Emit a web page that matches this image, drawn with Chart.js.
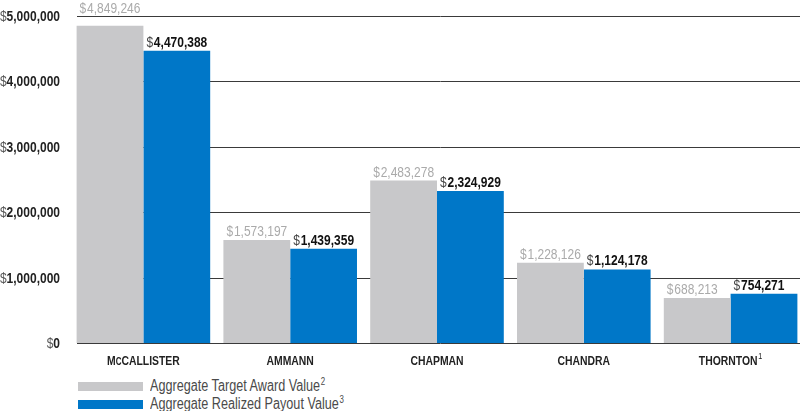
<!DOCTYPE html>
<html>
<head>
<meta charset="utf-8">
<script src="https://cdn.jsdelivr.net/npm/chart.js@4.4.1/dist/chart.umd.min.js"></script>
<style>
    html, body { margin: 0; padding: 0; background: #fff; }
    #wrap { position: relative; width: 800px; height: 411px; overflow: hidden; }
    #box { position: absolute; left: 0; top: 0; width: 804px; height: 370px; }
    #legend { position: absolute; left: 78px; top: 377px; font-family: 'Liberation Sans', Arial, sans-serif; font-size: 16px; color: #4a4a4a; }
    .row { display: flex; align-items: center; height: 18px; }
    .sw { width: 65px; height: 9px; margin-right: 7px; flex: none; }
    .txt { display: inline-block; transform: scaleX(0.79); transform-origin: left center; white-space: nowrap; }
    sup { font-size: 10px; vertical-align: 6px; line-height: 0; margin-left: 1px; }
</style>
</head>
<body>
<div id="wrap">
    <div id="box"><canvas id="chart"></canvas></div>
    <div id="legend"></div>
</div>
<script>
const categories = ['McCALLISTER', 'AMMANN', 'CHAPMAN', 'CHANDRA', 'THORNTON'];
const categoryNotes = ['', '', '', '', '1'];
const targetValues = [4849246, 1573197, 2483278, 1228126, 688213];
const payoutValues = [4470388, 1439359, 2324929, 1124178, 754271];
const yTicks = [0, 1000000, 2000000, 3000000, 4000000, 5000000];
const seriesNames = ['Aggregate Target Award Value', 'Aggregate Realized Payout Value'];
const seriesNotes = ['2', '3'];

const GRAY = '#c8c8ca';
const BLUE = '#0077c8';
const FONT = "'Liberation Sans', Arial, sans-serif";
const SQUEEZE = 0.8;

const fmt = (v) => v.toLocaleString('en-US');

// draws runs of text with different fonts, squeezed to look condensed
function drawRuns(ctx, runs, x, y, align) {
    ctx.save();
    ctx.textBaseline = 'alphabetic';
    ctx.textAlign = 'left';
    let total = 0;
    for (const r of runs) {
        ctx.font = r.font;
        total += ctx.measureText(r.text).width + (r.gap || 0);
    }
    ctx.translate(x, y);
    ctx.scale(SQUEEZE, 1);
    let cx = align === 'right' ? -total : align === 'center' ? -total / 2 : 0;
    for (const r of runs) {
        ctx.font = r.font;
        ctx.fillStyle = r.color;
        cx += r.gap || 0;
        ctx.fillText(r.text, cx, r.dy || 0);
        cx += ctx.measureText(r.text).width;
    }
    ctx.restore();
}

// horizontal rules at each tick, starting where the first bar starts
const gridLines = {
    id: 'gridLines',
    beforeDatasetsDraw(chart) {
        const { ctx, scales, chartArea } = chart;
        ctx.save();
        ctx.strokeStyle = '#3a3a3a';
        ctx.lineWidth = 1;
        for (const v of yTicks) {
            const y = Math.round(scales.y.getPixelForValue(v)) + 0.5;
            ctx.beginPath();
            ctx.moveTo(77, y);
            ctx.lineTo(chartArea.right, y);
            ctx.stroke();
        }
        ctx.restore();
    },
};

// y tick labels: light "$", bold number
const yLabels = {
    id: 'yLabels',
    afterDraw(chart) {
        const { ctx, scales } = chart;
        for (const v of yTicks) {
            const y = scales.y.getPixelForValue(v);
            drawRuns(ctx, [
                { text: '$', font: `15px ${FONT}`, color: '#555' },
                { text: fmt(v), font: `bold 15px ${FONT}`, color: '#222' },
            ], 60, y + 5, 'right');
        }
    },
};

// category labels under the axis
const xLabels = {
    id: 'xLabels',
    afterDraw(chart) {
        const { ctx, scales } = chart;
        categories.forEach((name, i) => {
            const x = scales.x.getPixelForTick(i);
            const runs = [];
            if (name.startsWith('Mc')) {
                runs.push({ text: 'M', font: `bold 13px ${FONT}`, color: '#222' });
                runs.push({ text: 'C', font: `bold 10px ${FONT}`, color: '#222' });
                runs.push({ text: name.slice(2), font: `bold 13px ${FONT}`, color: '#222' });
            } else {
                runs.push({ text: name, font: `bold 13px ${FONT}`, color: '#222' });
            }
            if (categoryNotes[i]) {
                runs.push({ text: categoryNotes[i], font: `9px ${FONT}`, color: '#222', dy: -6, gap: 1 });
            }
            drawRuns(ctx, runs, x, scales.x.top + 22, 'center');
        });
    },
};

// value labels above each bar, lifted clear of gridlines
const barLabels = {
    id: 'barLabels',
    afterDatasetsDraw(chart) {
        const { ctx, scales } = chart;
        const lines = yTicks.map((v) => scales.y.getPixelForValue(v));
        chart.data.datasets.forEach((ds, di) => {
            const meta = chart.getDatasetMeta(di);
            meta.data.forEach((bar, i) => {
                const x = bar.x - bar.width / 2 + 3;
                let base = bar.y - 4;
                for (const p of lines) {
                    if (p > base - 12 && p < base + 2) base = p - 3;
                }
                const gray = di === 0;
                drawRuns(ctx, [
                    { text: '$', font: `15px ${FONT}`, color: gray ? '#aaaaaa' : '#444' },
                    { text: fmt(ds.data[i]), font: gray ? `15px ${FONT}` : `bold 15px ${FONT}`, color: gray ? '#aaaaaa' : '#111', gap: 1 },
                ], x, base, 'left');
            });
        });
    },
};

new Chart(document.getElementById('chart'), {
    type: 'bar',
    data: {
        labels: categories,
        datasets: [
            { label: seriesNames[0], data: targetValues, backgroundColor: GRAY },
            { label: seriesNames[1], data: payoutValues, backgroundColor: BLUE },
        ],
    },
    options: {
        responsive: true,
        maintainAspectRatio: false,
        animation: false,
        layout: { padding: { top: 16, left: 0, right: 0, bottom: 0 } },
        datasets: { bar: { barPercentage: 1, categoryPercentage: 0.91 } },
        plugins: { legend: { display: false }, tooltip: { enabled: false } },
        scales: {
            x: {
                grid: { display: false },
                border: { display: false },
                ticks: { display: false },
                afterFit(scale) { scale.height = 27; },
            },
            y: {
                min: 0,
                max: 5000000,
                ticks: { display: false, stepSize: 1000000 },
                grid: { display: false },
                border: { display: false },
                afterFit(scale) { scale.width = 70; },
            },
        },
    },
    plugins: [gridLines, yLabels, xLabels, barLabels],
});

const legend = document.getElementById('legend');
seriesNames.forEach((name, i) => {
    const row = document.createElement('div');
    row.className = 'row';
    row.innerHTML = `<span class="sw" style="background:${i === 0 ? GRAY : BLUE}"></span><span class="txt">${name}<sup>${seriesNotes[i]}</sup></span>`;
    legend.appendChild(row);
});
</script>
</body>
</html>
